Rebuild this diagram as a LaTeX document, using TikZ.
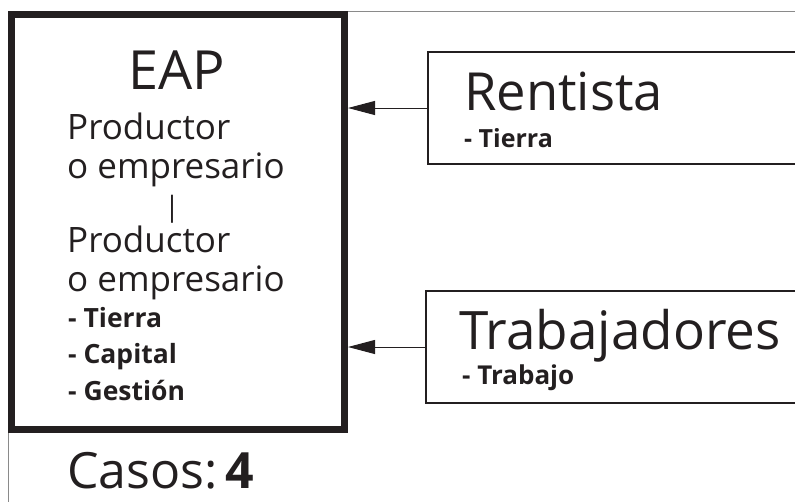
\documentclass[tikz,border=0pt]{standalone}
\usepackage{fontspec}
\setmainfont{Open Sans}
\usetikzlibrary{arrows.meta}
\definecolor{ink}{HTML}{231F20}
\definecolor{framegray}{HTML}{8A8A8A}
\begin{document}
\begin{tikzpicture}[x=1pt,y=-1pt,
  txt/.style={inner sep=0pt, text=ink},
  big/.style={font=\fontsize{52.5}{52.5}\selectfont},
  mid/.style={font=\fontsize{35}{35}\selectfont},
  bld/.style={font=\fontsize{26.5}{26.5}\selectfont\bfseries},
  thinbox/.style={draw=ink, line width=1.3pt, inner sep=0pt},
  feed/.style={draw=ink, line width=1pt, -{Triangle[length=27pt,width=14pt]}}]
\useasboundingbox (0,0) rectangle (795,501);
\clip (0,0) rectangle (795,501);
\draw[framegray, line width=1pt] (8,11) rectangle (900,600);
\node[draw=ink, line width=7pt, minimum width=333pt, minimum height=415pt, inner sep=0pt] (eap) at (178,222) {};
\node[thinbox, minimum width=392pt, minimum height=112pt] (rent) at (624,108) {};
\node[thinbox, minimum width=394pt, minimum height=112pt] (trab) at (623,347) {};
\draw[feed] (rent.west) -- (eap.east |- rent.west);
\draw[feed] (trab.west) -- (eap.east |- trab.west);
% left box text
\node[txt, font=\fontsize{54}{54}\selectfont, anchor=base] (eaptitle) at (177,89) {EAP};
\node[txt, mid, anchor=base west] (p1) at (67,139) {Productor};
\node[txt, mid, anchor=base west] (o1) at (67,178) {o empresario};
\node[txt, font=\fontsize{28}{28}\selectfont, anchor=center] (bar) at (172,209) {|};
\node[txt, mid, anchor=base west] (p2) at (67,252) {Productor};
\node[txt, mid, anchor=base west] (o2) at (67,291) {o empresario};
\node[txt, bld, anchor=base west] (f1) at (68,327) {- Tierra};
\node[txt, bld, anchor=base west] (f2) at (68,363) {- Capital};
\node[txt, bld, anchor=base west] (f3) at (68,400) {- Gestión};
\node[txt, font=\fontsize{50}{50}\selectfont, anchor=base west] (casos) at (67,488) {Casos:\hspace{8pt}\textbf{4}};
% right boxes text
\node[txt, big, anchor=base west] (renttitle) at (464,110) {Rentista};
\node[txt, font=\fontsize{25}{25}\selectfont\bfseries, anchor=base west] (renttierra) at (464,147) {- Tierra};
\node[txt, font=\fontsize{53}{53}\selectfont, anchor=base west] (trabtitle) at (459,349) {Trabajadores};
\node[txt, font=\fontsize{26}{26}\selectfont\bfseries, anchor=base west] (trabtrab) at (462,384) {- Trabajo};
\end{tikzpicture}
\end{document}
